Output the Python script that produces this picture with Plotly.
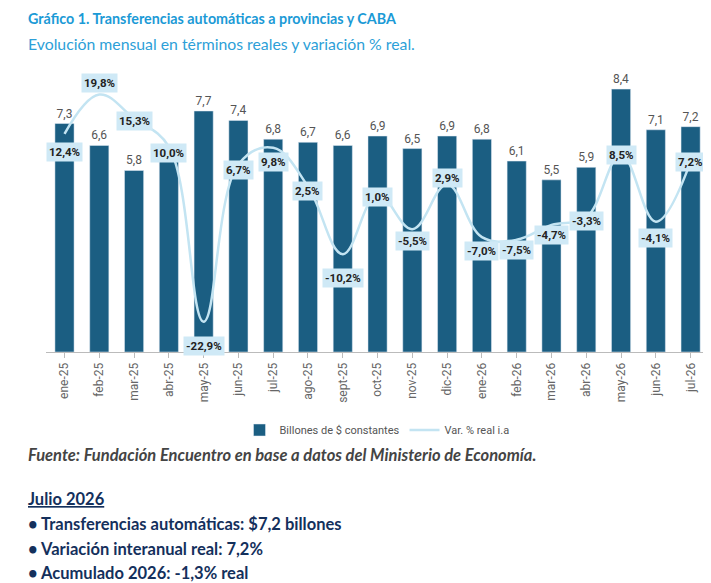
import plotly.graph_objects as go

months = ["ene-25","feb-25","mar-25","abr-25","may-25","jun-25","jul-25","ago-25","sept-25","oct-25","nov-25","dic-25","ene-26","feb-26","mar-26","abr-26","may-26","jun-26","jul-26"]
billones = [7.3,6.6,5.8,6.1,7.7,7.4,6.8,6.7,6.6,6.9,6.5,6.9,6.8,6.1,5.5,5.9,8.4,7.1,7.2]
var_real = [12.4,19.8,15.3,10.0,-22.9,6.7,9.8,2.5,-10.2,1.0,-5.5,2.9,-7.0,-7.5,-4.7,-3.3,8.5,-4.1,7.2]
label_shift = [-18,12,-2,-6,-24,-6,-14,-4,-24,-2,-12,6,-14,-10,-10,-4,0,-16,0]

fig = go.Figure()
fig.add_trace(go.Bar(x=months, y=billones, name="Billones de $ constantes", marker_color="#1b5e82",
                     text=[f"{v:.1f}".replace(".", ",") for v in billones], textposition="outside",
                     textfont=dict(color="#555", size=12, family="Roboto"), cliponaxis=False, width=0.55))
fig.add_trace(go.Scatter(x=months, y=var_real, name="Var. % real i.a", yaxis="y2", mode="lines",
                         line=dict(color="#c3e4f2", width=2.5, shape="spline", smoothing=1.1)))
for m, v, s in zip(months, var_real, label_shift):
    fig.add_annotation(x=m, y=v, xref="x", yref="y2", yshift=s, showarrow=False,
                       text=f"<b>{v:.1f}%</b>".replace(".", ","), bgcolor="#cfe9f6",
                       font=dict(size=11.5, color="#222", family="Roboto"), borderpad=2)

def py(p):
    return (352 - p) / 292

X0 = -0.03
fig.add_annotation(x=X0, y=py(18), xref="paper", yref="paper", xanchor="left", yanchor="middle", showarrow=False,
                   text="<b>Gráfico 1. Transferencias automáticas a provincias y CABA</b>", font=dict(size=14.3, color="#1b9ad6", family="Lato"))
fig.add_annotation(x=X0, y=py(43), xref="paper", yref="paper", xanchor="left", yanchor="middle", showarrow=False,
                   text="Evolución mensual en términos reales y variación % real.", font=dict(size=15.8, color="#2d9fd8", family="Lato"))
texts = [(455, "<b><i>Fuente: Fundación Encuentro en base a datos del Ministerio de Economía.</i></b>", "#444", 16.5),
         (499, "<b><u>Julio 2026</u></b>", "#14305c", 16.5),
         (524, "<b>• Transferencias automáticas: $7,2 billones</b>", "#14305c", 16.5),
         (549, "<b>• Variación interanual real: 7,2%</b>", "#14305c", 16.5),
         (573, "<b>• Acumulado 2026: -1,3% real</b>", "#14305c", 16.5)]
for p, t, c, sz in texts:
    fig.add_annotation(x=X0, y=py(p), xref="paper", yref="paper", xanchor="left", yanchor="middle", showarrow=False,
                       text=t, font=dict(size=sz, color=c, family="Lato"))

fig.update_layout(
    width=711, height=583, margin=dict(l=38, r=11, t=52, b=239, autoexpand=False), plot_bgcolor="white", paper_bgcolor="white",
    showlegend=True, legend=dict(orientation="h", x=0.5, xanchor="center", y=py(430), yanchor="middle",
                                 font=dict(size=11, color="#555", family="Roboto")),
    xaxis=dict(tickangle=-90, tickfont=dict(size=12, color="#666", family="Roboto"), showline=True, linecolor="#bbb", ticks="outside", tickcolor="#bbb"),
    yaxis=dict(range=[0, 9.33], visible=False),
    yaxis2=dict(range=[-28.6, 26.3], overlaying="y", visible=False),
    bargap=0.3,
)
fig.write_html("out.html")
